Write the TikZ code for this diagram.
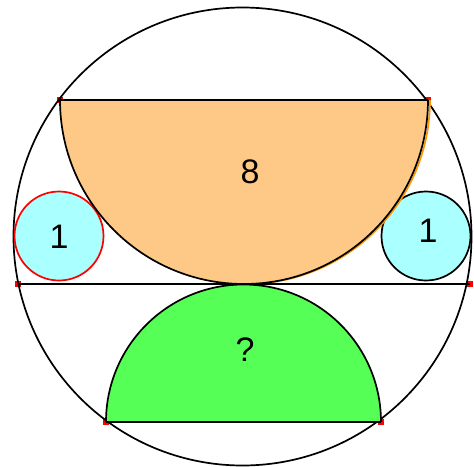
\documentclass[tikz,border=0pt]{standalone}
\usepackage{fontspec}
\setmainfont{Liberation Sans}
\definecolor{orangefill}{RGB}{254,200,134}
\definecolor{orangeline}{RGB}{255,150,0}
\definecolor{greenfill}{RGB}{85,255,85}
\definecolor{cyanfill}{RGB}{170,255,255}
\begin{document}
\begin{tikzpicture}[x=1pt,y=-1pt,line width=1.7pt,
  redmark/.style={fill=red,draw=none,minimum size=6pt,inner sep=0pt,outer sep=0pt},
  lbl/.style={font=\fontsize{34}{34}\selectfont,inner sep=0pt}]
\useasboundingbox (0,0) rectangle (474,466);
% named points
\coordinate (O) at (242.5,236.5);
\coordinate (A1) at (60,100);
\coordinate (A2) at (428,100);
\coordinate (B1) at (18,284);
\coordinate (B2) at (470,284);
\coordinate (C1) at (106,422);
\coordinate (C2) at (381,422);
% markers
\foreach \p in {A1,A2,B1,B2,C1,C2} \node[redmark] at (\p) {};
% big circle
\draw (O) circle[radius=229pt];
% small circles
\draw[red,fill=cyanfill] (59,236) circle[radius=44.5pt];
\draw[black,fill=cyanfill] (426,236) circle[radius=44.5pt];
% orange half-disc
\draw[orangeline] ([xshift=2pt]A2) arc[start angle=0,end angle=-180,radius=184pt];
\fill[orangefill] (A2) arc[start angle=0,end angle=-180,radius=184pt] -- cycle;
\draw (A2) arc[start angle=0,end angle=-180,radius=184pt];
\draw (A1) -- (A2);
% green half-disc
\fill[greenfill] (C2) arc[start angle=0,end angle=180,radius=137.5pt] -- cycle;
\draw (C2) arc[start angle=0,end angle=180,radius=137.5pt];
\draw (C1) -- (C2);
% horizontal line
\draw (B1) -- (B2);
% labels
\node[lbl] (l8) at (250,172) {8};
\node[lbl] (l1a) at (59,237) {1};
\node[lbl] (l1b) at (428,231) {1};
\node[lbl] (lq) at (245,350) {?};
\end{tikzpicture}
\end{document}
